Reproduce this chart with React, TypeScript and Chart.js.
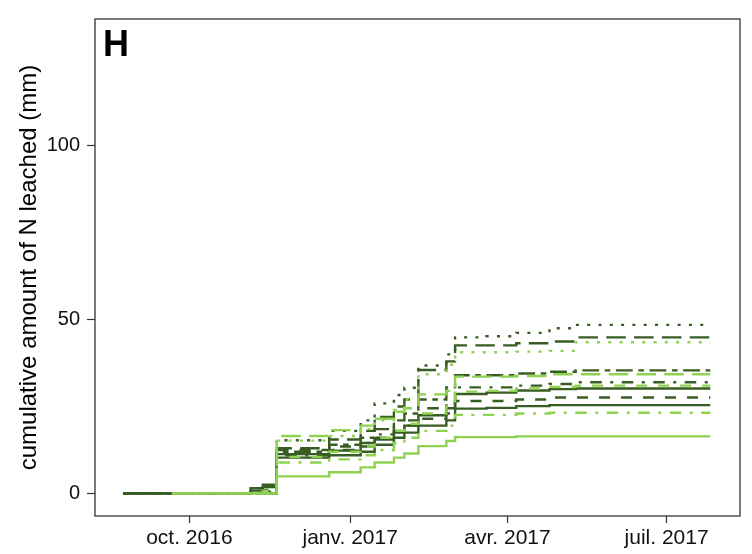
import React, { useEffect, useRef } from "react";
import { Chart, registerables } from "chart.js";

Chart.register(...registerables);

// step dates shared by every series
const stepDates = [
  "2016-08-24", "2016-09-21", "2016-10-28", "2016-11-05", "2016-11-12",
  "2016-11-20", "2016-12-20", "2017-01-07", "2017-01-15", "2017-01-26",
  "2017-02-01", "2017-02-09", "2017-02-25", "2017-03-02", "2017-03-20",
  "2017-04-06", "2017-04-25", "2017-05-10", "2017-07-26",
];

const darkDotted = [0, 0, 0, 0, 0.5, 15.3, 18.0, 21.0, 25.9, 28.3, 30.4, 36.8, 40.0, 44.9, 45.2, 46.2, 47.5, 48.5, 48.5];
const darkLongdash = [0, 0, 0, 0, 0, 13.0, 15.5, 18.0, 22.0, 25.0, 27.0, 35.5, 38.0, 42.6, 42.6, 43.2, 43.7, 44.9, 45.1];
const lightDotted = [null, 0, 0, 0, 0, 15.2, 16.5, 18.5, 21.0, 24.0, 27.0, 34.3, 37.0, 40.6, 40.6, 40.8, 41.0, 43.5, 43.5];
const darkTwodash = [0, 0, 0, 0, 0, 12.0, 14.0, 16.0, 18.5, 21.0, 23.0, 27.0, 30.5, 34.0, 34.0, 34.5, 35.0, 35.4, 35.4];
const lightLongdash = [null, 0, 0, 0, 0, 16.5, 18.2, 19.5, 21.5, 23.5, 24.5, 28.5, 29.5, 33.6, 33.6, 33.8, 34.3, 34.3, 34.3];
const darkDotdash = [0, 0, 0, 0, 1.0, 11.0, 12.5, 14.5, 17.0, 19.0, 21.0, 24.5, 26.0, 30.5, 30.5, 31.0, 31.5, 32.0, 32.0];
const lightDashed = [null, 0, 0, 0, 0.8, 10.5, 12.0, 13.5, 16.0, 18.0, 20.0, 23.0, 25.0, 29.3, 29.5, 30.2, 30.6, 31.0, 31.0];
const darkSolidA = [0, 0, 0, 1.5, 2.5, 11.3, 12.3, 13.5, 15.5, 17.5, 19.5, 22.5, 24.5, 28.6, 29.0, 29.6, 30.0, 30.2, 30.2];
const darkDashed = [0, 0, 0, 0, 0, 12.5, 13.5, 14.5, 16.0, 18.0, 19.5, 21.5, 23.0, 26.6, 26.6, 27.0, 27.6, 27.6, 27.6];
const darkSolidB = [0, 0, 0, 0.8, 1.8, 10.3, 11.0, 12.0, 14.0, 16.0, 17.5, 19.5, 21.0, 24.4, 24.6, 25.1, 25.4, 25.4, 25.4];
const lightDotdash = [null, 0, 0, 0, 0, 8.9, 9.8, 11.0, 12.5, 14.5, 16.0, 18.0, 19.5, 22.6, 22.6, 23.0, 23.2, 23.2, 23.2];
const lightSolid = [null, 0, 0, 0, 0, 4.9, 6.1, 7.5, 8.9, 10.3, 11.5, 13.6, 15.1, 16.2, 16.2, 16.4, 16.4, 16.4, 16.4];

const xTickDates = ["2016-10-01", "2017-01-01", "2017-04-01", "2017-07-01"];
const xTickLabels = ["oct. 2016", "janv. 2017", "avr. 2017", "juil. 2017"];
const yTickValues = [0, 50, 100];
const xRange = ["2016-08-08", "2017-08-12"];
const yRange = [-6.5, 136.5];

const DARK = "#385d22";
const LIGHT = "#8fd150";
const FONT = "'Liberation Sans', Arial, Helvetica, sans-serif";

const DASH = {
  solid: [],
  dashed: [11, 11],
  dotted: [3, 8.3],
  dotdash: [3, 8.5, 11.5, 8.5],
  longdash: [19.5, 8.3],
  twodash: [5.6, 5.6, 16.8, 5.6],
};

const toMs = (s: string) => {
  const [y, m, d] = s.split("-").map(Number);
  return Date.UTC(y, m - 1, d);
};

const seriesList = [
  { label: "dark dotted", values: darkDotted, color: DARK, dash: DASH.dotted, order: 1 },
  { label: "dark longdash", values: darkLongdash, color: DARK, dash: DASH.longdash, order: 1 },
  { label: "dark twodash", values: darkTwodash, color: DARK, dash: DASH.twodash, order: 1 },
  { label: "dark dotdash", values: darkDotdash, color: DARK, dash: DASH.dotdash, order: 1 },
  { label: "dark solid A", values: darkSolidA, color: DARK, dash: DASH.solid, order: 1 },
  { label: "dark dashed", values: darkDashed, color: DARK, dash: DASH.dashed, order: 1 },
  { label: "dark solid B", values: darkSolidB, color: DARK, dash: DASH.solid, order: 1 },
  { label: "light dotted", values: lightDotted, color: LIGHT, dash: DASH.dotted, order: 0 },
  { label: "light longdash", values: lightLongdash, color: LIGHT, dash: DASH.longdash, order: 0 },
  { label: "light dashed", values: lightDashed, color: LIGHT, dash: DASH.dashed, order: 0 },
  { label: "light dotdash", values: lightDotdash, color: LIGHT, dash: DASH.dotdash, order: 0 },
  { label: "light solid", values: lightSolid, color: LIGHT, dash: DASH.solid, order: 0 },
];

const framePlugin = {
  id: "frameAndTag",
  afterDraw(chart: any) {
    const { ctx, chartArea } = chart;
    const { left, top, right, bottom } = chartArea;
    ctx.save();
    ctx.strokeStyle = "#333333";
    ctx.lineWidth = 1.3;
    ctx.strokeRect(left, top, right - left, bottom - top);
    ctx.fillStyle = "#000000";
    ctx.font = `bold 36px ${FONT}`;
    ctx.textAlign = "left";
    ctx.textBaseline = "alphabetic";
    ctx.fillText("H", left + 8, top + 37);
    ctx.restore();
  },
};

export default function App() {
  const ref = useRef<HTMLCanvasElement | null>(null);

  useEffect(() => {
    if (!ref.current) return;
    const datasets = seriesList.map((s) => ({
      label: s.label,
      data: stepDates.map((d, i) => ({ x: toMs(d), y: s.values[i] })),
      borderColor: s.color,
      backgroundColor: s.color,
      borderWidth: 2.4,
      borderDash: s.dash,
      borderCapStyle: "butt",
      pointRadius: 0,
      stepped: "before",
      fill: false,
      order: s.order,
    }));

    const chart = new Chart(ref.current, {
      type: "line",
      data: { datasets } as any,
      plugins: [framePlugin],
      options: {
        responsive: false,
        animation: false,
        devicePixelRatio: 1,
        layout: { padding: { left: 0, top: 13, right: 12, bottom: 0 } },
        plugins: {
          legend: { display: false },
          tooltip: { enabled: false },
        },
        scales: {
          x: {
            type: "linear",
            min: toMs(xRange[0]),
            max: toMs(xRange[1]),
            afterBuildTicks: (s: any) => {
              s.ticks = xTickDates.map((d) => ({ value: toMs(d) }));
            },
            afterFit: (s: any) => {
              s.height = 38;
            },
            ticks: {
              autoSkip: false,
              maxRotation: 0,
              minRotation: 0,
              padding: 3,
              color: "#111111",
              font: { family: FONT, size: 21 },
              callback: (_v: any, i: number) => xTickLabels[i],
            },
            grid: {
              display: true,
              drawOnChartArea: false,
              drawTicks: true,
              tickLength: 7,
              tickColor: "#333333",
              tickWidth: 1.2,
            },
            border: { display: false },
          },
          y: {
            type: "linear",
            min: yRange[0],
            max: yRange[1],
            afterBuildTicks: (s: any) => {
              s.ticks = yTickValues.map((v) => ({ value: v }));
            },
            afterFit: (s: any) => {
              s.width = 95;
            },
            ticks: {
              padding: 7,
              color: "#111111",
              font: { family: FONT, size: 20 },
              callback: (v: any) => String(v),
            },
            grid: {
              display: true,
              drawOnChartArea: false,
              drawTicks: true,
              tickLength: 8,
              tickColor: "#333333",
              tickWidth: 1.2,
            },
            border: { display: false },
            title: {
              display: true,
              text: "cumulative amount of N leached (mm)",
              color: "#000000",
              font: { family: FONT, size: 24 },
              padding: { top: 15, bottom: 0 },
            },
          },
        },
      } as any,
    });
    return () => chart.destroy();
  }, []);

  return (
    <div style={{ position: "fixed", left: 0, top: 0, width: 752, height: 554, background: "#ffffff" }}>
      <canvas ref={ref} width={752} height={554} style={{ display: "block", width: 752, height: 554 }} />
    </div>
  );
}
